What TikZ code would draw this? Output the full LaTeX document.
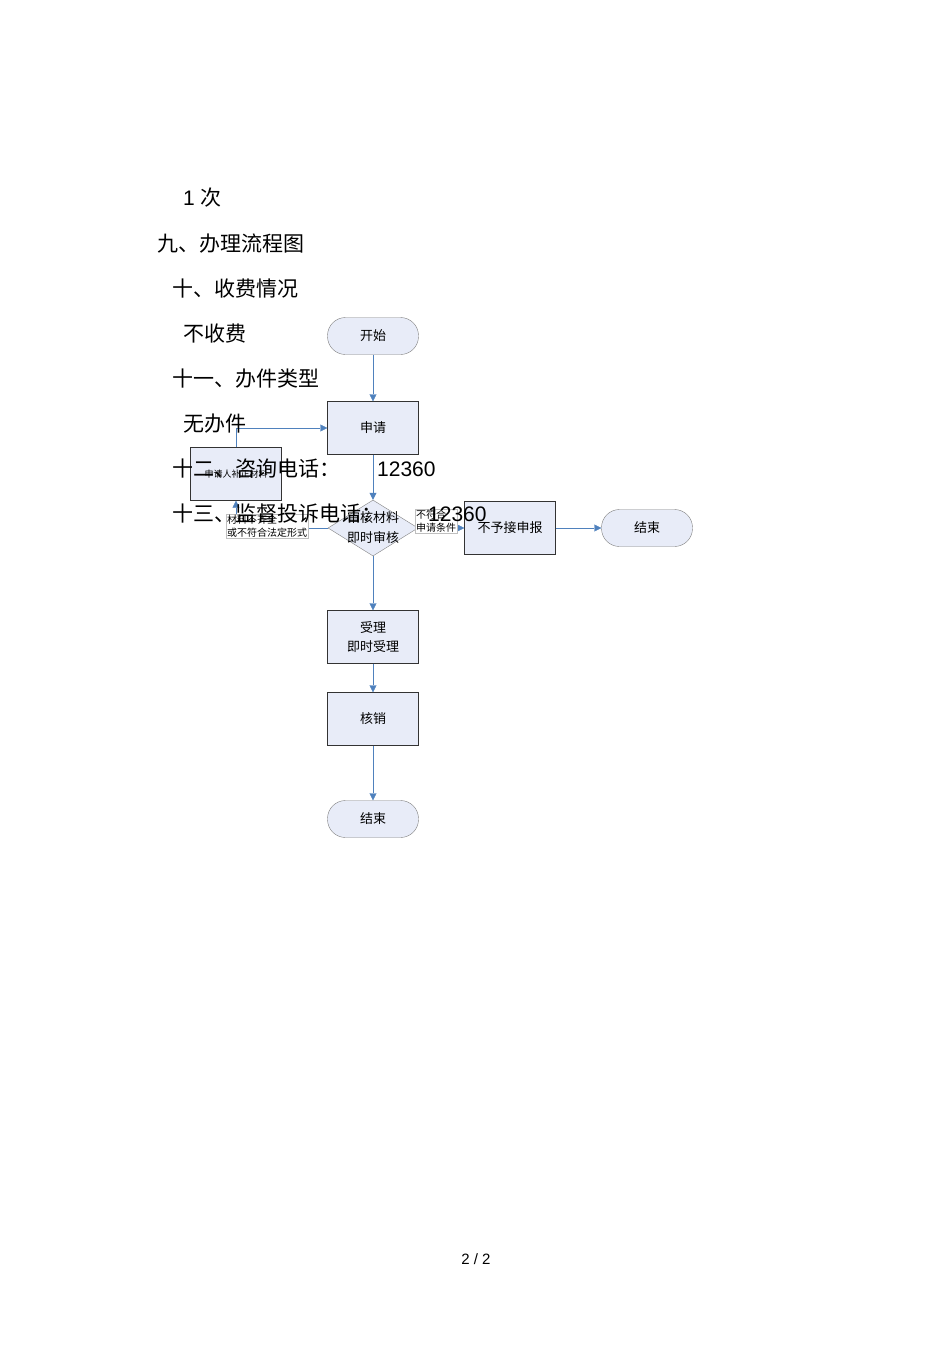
\documentclass[tikz,border=0pt]{standalone}
\usepackage{fontspec}
\setmainfont{Liberation Sans}
\newfontfamily\cjk{Noto Sans CJK SC}
\usetikzlibrary{shapes.geometric,arrows.meta}
\definecolor{boxfill}{HTML}{E8ECF8}
\definecolor{arr}{HTML}{4F81BD}
\tikzset{
 box/.style={draw=black!80,fill=boxfill,minimum width=91pt,minimum height=53pt,font=\cjk\fontsize{13}{19}\selectfont,align=center,inner sep=0pt},
 term/.style={draw=black!50,fill=boxfill,rounded corners=18pt,minimum width=91pt,minimum height=37pt,font=\cjk\fontsize{13}{15}\selectfont,inner sep=0pt},
 dia/.style={diamond,draw=black!50,fill=boxfill,aspect=1.6,minimum width=90pt,minimum height=56pt,font=\cjk\fontsize{13}{20}\selectfont,align=center,inner sep=-9pt},
 lab/.style={draw=black!25,fill=white,font=\cjk\fontsize{10}{13}\selectfont,align=left,inner sep=1pt},
 link/.style={draw=arr,-{Triangle[length=7pt,width=7pt]}},
 body/.style={anchor=west,font=\cjk\fontsize{21}{24}\selectfont,inner sep=0pt},
 num/.style={anchor=west,font=\fontsize{21}{24}\selectfont,inner sep=0pt}
}
\begin{document}
\begin{tikzpicture}[x=1pt,y=-1pt]
\useasboundingbox (0,0) rectangle (950,1345);
\node[term] (start) at (373,336) {开始};
\node[box] (apply) at (373,428) {申请};
\node[box,font=\cjk\fontsize{9}{11}\selectfont] (fix) at (236,474) {申请人补正材料};
\node[dia] (check) at (373,528) {审核材料\\即时审核};
\node[box] (reject) at (510,528) {不予接申报};
\node[term] (end1) at (647,528) {结束};
\node[box] (accept) at (373,637) {受理\\即时受理};
\node[box] (cancel) at (373,719) {核销};
\node[term] (end2) at (373,819) {结束};
\coordinate (c1) at (236,528);
\draw[link] (start) -- (apply);
\draw[link] (apply) -- (check);
\draw[link] (check) -- (accept);
\draw[link] (accept) -- (cancel);
\draw[link] (cancel) -- (end2);
\draw[link] (check) -- (reject);
\draw[link] (reject) -- (end1);
\draw[link] (check.west) -- (c1) -- (fix.south);
\draw[link] (fix.north) |- (apply.west);
\node[lab,anchor=north west] (l1) at (226,514) {材料不齐全\\或不符合法定形式};
\node[lab,anchor=north west] (l2) at (415,509) {不符合\\申请条件};
\node[body] (t0) at (183,198) {{\fontsize{21}{24}\rmfamily 1 }次};
\node[body] (t1) at (157,244) {九、办理流程图};
\node[body] (t2) at (172,289) {十、收费情况};
\node[body] (t3) at (183,334) {不收费};
\node[body] (t4) at (172,379) {十一、办件类型};
\node[body] (t5) at (183,424) {无办件};
\node[body] (t6) at (172,469) {十二、咨询电话：};
\node[num] (n6) at (377,469) {12360};
\node[body] (t7) at (172,514) {十三、监督投诉电话：};
\node[num] (n7) at (428,514) {12360};
\node[font=\fontsize{15}{18}\selectfont] (pg) at (476,1259) {2 / 2};
\end{tikzpicture}
\end{document}
